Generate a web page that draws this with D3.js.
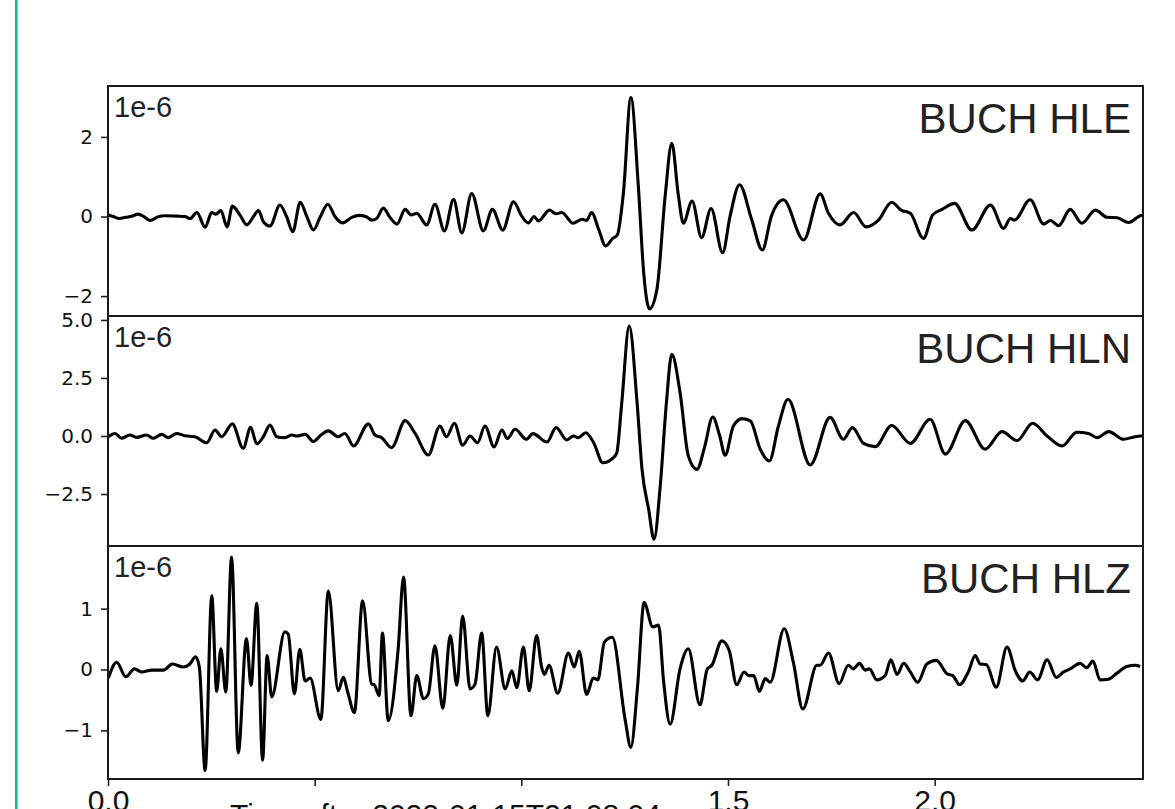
<!DOCTYPE html>
<html>
<head>
<meta charset="utf-8">
<script src="https://cdn.jsdelivr.net/npm/d3@7"></script>
<style>
  html, body { margin: 0; padding: 0; background: #fff; overflow: hidden; }
  svg { display: block; }
</style>
</head>
<body>
<div id="chart"></div>
<script>
// traces: [seconds, amplitude in 1e-6]
const hle = [[0.001,0.04],[0.013,0.0],[0.027,-0.05],[0.043,-0.02],[0.059,0.01],[0.073,0.06],[0.088,-0.01],[0.102,-0.10],[0.120,-0.01],[0.138,0.02],
  [0.166,0.01],[0.186,0.0],[0.199,-0.05],[0.215,0.10],[0.235,-0.27],[0.251,0.10],[0.261,0.06],[0.273,0.15],[0.288,-0.26],[0.301,0.26],
  [0.319,0.04],[0.336,-0.21],[0.352,0.0],[0.364,0.15],[0.376,-0.13],[0.392,-0.24],[0.416,0.29],[0.432,0.0],[0.447,-0.38],[0.465,0.36],
  [0.481,0.0],[0.497,-0.34],[0.513,-0.02],[0.532,0.31],[0.549,0.0],[0.567,-0.16],[0.590,-0.02],[0.607,0.03],[0.624,0.0],[0.638,-0.09],
  [0.650,-0.05],[0.666,0.21],[0.682,-0.02],[0.699,-0.19],[0.719,0.18],[0.733,0.04],[0.747,0.08],[0.771,-0.21],[0.791,0.31],[0.814,-0.36],
  [0.836,0.43],[0.856,-0.41],[0.880,0.58],[0.908,-0.36],[0.930,0.18],[0.955,-0.34],[0.981,0.37],[1.001,0.01],[1.017,-0.16],[1.031,0.0],
  [1.041,-0.11],[1.068,0.16],[1.084,0.07],[1.098,0.10],[1.125,-0.17],[1.147,-0.07],[1.158,-0.10],[1.170,0.10],[1.187,-0.32],[1.204,-0.74],
  [1.221,-0.55],[1.232,-0.47],[1.247,0.60],[1.265,2.99],[1.283,0.77],[1.296,-1.41],[1.310,-2.32],[1.328,-1.83],[1.348,0.52],[1.364,1.84],
  [1.380,0.52],[1.392,-0.17],[1.413,0.39],[1.436,-0.53],[1.459,0.20],[1.487,-0.91],[1.505,0.01],[1.528,0.80],[1.557,-0.07],[1.583,-0.84],
  [1.605,0.01],[1.634,0.42],[1.683,-0.59],[1.723,0.57],[1.743,0.08],[1.771,-0.21],[1.804,0.10],[1.834,-0.26],[1.864,-0.09],[1.896,0.36],
  [1.919,0.16],[1.941,0.08],[1.973,-0.55],[1.995,0.04],[2.018,0.18],[2.048,0.33],[2.090,-0.34],[2.135,0.29],[2.167,-0.30],[2.183,-0.05],
  [2.193,-0.09],[2.231,0.42],[2.264,-0.19],[2.280,-0.10],[2.300,-0.23],[2.328,0.18],[2.356,-0.17],[2.389,0.16],[2.417,-0.02],[2.441,-0.03],
  [2.469,-0.15],[2.497,0.02],[2.505,0.04]];

const hln = [[0.001,-0.03],[0.017,0.11],[0.033,-0.10],[0.053,0.04],[0.069,-0.06],[0.093,0.04],[0.110,-0.10],[0.130,0.07],[0.146,-0.07],[0.166,0.11],
  [0.186,0.01],[0.210,-0.03],[0.239,-0.29],[0.259,0.26],[0.275,-0.03],[0.301,0.52],[0.327,-0.53],[0.345,0.37],[0.360,-0.34],[0.376,-0.03],
  [0.392,0.47],[0.408,-0.03],[0.428,-0.07],[0.445,0.04],[0.456,0.0],[0.477,0.07],[0.497,-0.24],[0.515,0.04],[0.533,0.22],[0.557,-0.03],
  [0.573,0.11],[0.594,-0.43],[0.630,0.52],[0.646,0.04],[0.662,-0.07],[0.686,-0.50],[0.719,0.66],[0.743,0.11],[0.775,-0.82],[0.803,0.43],
  [0.819,-0.03],[0.838,0.55],[0.858,-0.40],[0.876,0.0],[0.894,-0.29],[0.912,0.43],[0.934,-0.47],[0.953,0.26],[0.966,-0.11],[0.985,0.29],
  [1.012,-0.14],[1.028,0.10],[1.062,-0.26],[1.084,0.36],[1.110,-0.17],[1.126,0.0],[1.138,-0.07],[1.156,0.14],[1.175,-0.29],[1.197,-1.15],
  [1.223,-0.93],[1.231,-0.72],[1.243,1.44],[1.261,4.74],[1.280,1.44],[1.292,-1.44],[1.308,-3.16],[1.321,-4.45],[1.336,-2.16],[1.351,1.44],
  [1.364,3.52],[1.384,1.87],[1.404,-0.86],[1.425,-1.44],[1.443,-0.50],[1.463,0.82],[1.480,0.0],[1.493,-0.83],[1.513,0.43],[1.534,0.75],
  [1.554,0.65],[1.578,-0.57],[1.600,-1.08],[1.622,0.43],[1.645,1.58],[1.699,-1.25],[1.747,0.80],[1.779,-0.14],[1.801,0.36],[1.828,-0.32],
  [1.856,-0.46],[1.896,0.45],[1.941,-0.32],[1.989,0.72],[2.026,-0.78],[2.074,0.66],[2.122,-0.57],[2.163,0.19],[2.199,-0.20],[2.237,0.55],
  [2.272,0.0],[2.308,-0.43],[2.344,0.16],[2.372,0.11],[2.393,-0.07],[2.421,0.19],[2.457,-0.14],[2.485,-0.03],[2.505,0.01]];

const hlz = [[0.001,-0.14],[0.021,0.12],[0.043,-0.12],[0.064,0.01],[0.081,-0.04],[0.106,-0.01],[0.134,-0.01],[0.156,0.09],[0.182,0.04],[0.198,0.09],
  [0.212,0.21],[0.221,0.04],[0.235,-1.66],[0.251,1.21],[0.263,-0.36],[0.273,0.34],[0.285,-0.37],[0.299,1.85],[0.315,-1.37],[0.335,0.51],
  [0.346,-0.26],[0.360,1.09],[0.374,-1.49],[0.385,0.23],[0.396,-0.45],[0.428,0.62],[0.436,0.58],[0.451,-0.40],[0.464,0.33],[0.477,-0.19],
  [0.489,-0.14],[0.515,-0.82],[0.533,1.29],[0.557,-0.35],[0.569,-0.13],[0.581,-0.40],[0.596,-0.71],[0.616,1.13],[0.638,-0.24],[0.644,-0.25],
  [0.656,-0.43],[0.664,0.60],[0.678,-0.84],[0.702,0.34],[0.715,1.52],[0.733,-0.76],[0.747,-0.10],[0.763,-0.48],[0.775,-0.40],[0.791,0.39],
  [0.810,-0.64],[0.828,0.56],[0.844,-0.26],[0.858,0.88],[0.876,-0.32],[0.888,-0.24],[0.904,0.60],[0.919,-0.76],[0.940,0.37],[0.961,-0.32],
  [0.977,-0.02],[0.989,-0.30],[1.005,0.37],[1.019,-0.35],[1.037,0.56],[1.049,0.04],[1.056,-0.08],[1.067,0.07],[1.088,-0.39],[1.114,0.27],
  [1.128,0.04],[1.140,0.30],[1.158,-0.41],[1.174,-0.14],[1.185,-0.17],[1.201,0.45],[1.220,0.53],[1.251,-0.82],[1.265,-1.28],[1.281,-0.29],
  [1.297,1.10],[1.318,0.70],[1.332,0.73],[1.344,-0.18],[1.360,-0.90],[1.384,0.01],[1.404,0.34],[1.432,-0.58],[1.450,0.01],[1.461,0.07],
  [1.485,0.47],[1.503,0.31],[1.521,-0.25],[1.539,-0.04],[1.550,-0.10],[1.562,-0.10],[1.576,-0.36],[1.590,-0.15],[1.602,-0.21],[1.636,0.67],
  [1.658,0.12],[1.681,-0.65],[1.715,0.07],[1.723,0.07],[1.743,0.27],[1.769,-0.23],[1.791,0.07],[1.803,0.01],[1.818,0.10],[1.832,-0.01],
  [1.842,0.01],[1.860,-0.17],[1.880,-0.10],[1.894,0.16],[1.909,-0.08],[1.925,0.10],[1.941,-0.04],[1.959,-0.21],[1.981,0.09],[2.004,0.15],
  [2.030,-0.07],[2.044,-0.10],[2.060,-0.25],[2.082,-0.03],[2.098,0.23],[2.110,0.09],[2.125,0.08],[2.149,-0.29],[2.175,0.37],[2.195,-0.02],
  [2.213,-0.19],[2.230,-0.04],[2.249,-0.17],[2.272,0.16],[2.294,-0.13],[2.312,-0.04],[2.328,0.01],[2.352,0.10],[2.368,0.03],[2.383,0.14],
  [2.400,-0.17],[2.420,-0.16],[2.441,-0.06],[2.465,0.05],[2.485,0.07],[2.497,0.05]];

const stations = ["BUCH HLE", "BUCH HLN", "BUCH HLZ"];
const yDomains = [[-2.50, 3.28], [-4.74, 5.17], [-1.80, 2.03]];
const yTicks = [[-2, 0, 2], [-2.5, 0, 2.5, 5.0], [-1, 0, 1]];
const yFormats = ["d", ".1f", "d"];
const xTicks = [0, 0.5, 1.0, 1.5, 2.0];
const xShown = [0, 1.5, 2.0];
const xDomain = [0, 2.504];
const xLabelText = "Time after 2022-01-15T21:08:04";
const scaleText = "1e-6";

const width = 1175, height = 809;
const left = 108, right = 1143;
const panelTops = [86, 316, 546];
const panelBottoms = [316, 546, 779];

const svg = d3.select("#chart").append("svg")
  .attr("width", width)
  .attr("height", height);

// teal bar at the far left
svg.append("rect")
  .attr("x", 15).attr("y", 0)
  .attr("width", 2.6).attr("height", height)
  .attr("fill", "#1bb597");

const xScale = d3.scaleLinear().domain(xDomain).range([left, right]);

const traces = [hle, hln, hlz];

traces.forEach((trace, i) => {
  const top = panelTops[i], bottom = panelBottoms[i];
  const yScale = d3.scaleLinear().domain(yDomains[i]).range([bottom, top]);
  const g = svg.append("g");

  const clipId = "clip" + i;
  g.append("clipPath").attr("id", clipId)
    .append("rect")
    .attr("x", left).attr("y", top)
    .attr("width", right - left).attr("height", bottom - top);

  const line = d3.line()
    .x(d => xScale(d[0]))
    .y(d => yScale(d[1]))
    .curve(d3.curveMonotoneX);

  g.append("path")
    .datum(trace)
    .attr("clip-path", `url(#${clipId})`)
    .attr("fill", "none")
    .attr("stroke", "#000")
    .attr("stroke-width", 3.1)
    .attr("stroke-linejoin", "round")
    .attr("d", line);

  const fmt = d3.format(yFormats[i]);
  const yAxis = g.append("g")
    .attr("transform", `translate(${left},0)`)
    .call(d3.axisLeft(yScale).tickValues(yTicks[i]).tickSize(7).tickPadding(8)
      .tickFormat(d => fmt(d).replace("-", "\u2212")));
  yAxis.select(".domain").remove();
  yAxis.selectAll(".tick line").attr("stroke", "#222").attr("stroke-width", 1.6);
  yAxis.selectAll(".tick text")
    .attr("font-family", "DejaVu Sans")
    .attr("font-size", 20)
    .attr("fill", "#111");

  g.append("rect")
    .attr("x", left).attr("y", top)
    .attr("width", right - left).attr("height", bottom - top)
    .attr("fill", "none")
    .attr("stroke", "#1a1a1a")
    .attr("stroke-width", 2);

  g.append("text")
    .attr("x", left + 6).attr("y", top + 31)
    .attr("font-family", "Liberation Sans")
    .attr("font-size", 29)
    .attr("fill", "#222")
    .text(scaleText);

  g.append("text")
    .attr("x", right - 12).attr("y", top + 47)
    .attr("text-anchor", "end")
    .attr("font-family", "Liberation Sans")
    .attr("font-size", 42)
    .attr("fill", "#222")
    .text(stations[i]);
});

// bottom time axis
const xAxis = svg.append("g")
  .attr("transform", `translate(0,${panelBottoms[2]})`)
  .call(d3.axisBottom(xScale).tickValues(xTicks).tickSize(7).tickPadding(4)
    .tickFormat(d => xShown.includes(d) ? d3.format(".1f")(d) : ""));
xAxis.select(".domain").remove();
xAxis.selectAll(".tick line").attr("stroke", "#222").attr("stroke-width", 1.6);
xAxis.selectAll(".tick text")
  .attr("font-family", "Liberation Sans")
  .attr("font-size", 30)
  .attr("fill", "#111");

svg.append("text")
  .attr("x", 230).attr("y", 825)
  .attr("font-family", "Liberation Sans")
  .attr("font-size", 30)
  .attr("fill", "#111")
  .text(xLabelText);
</script>
</body>
</html>
